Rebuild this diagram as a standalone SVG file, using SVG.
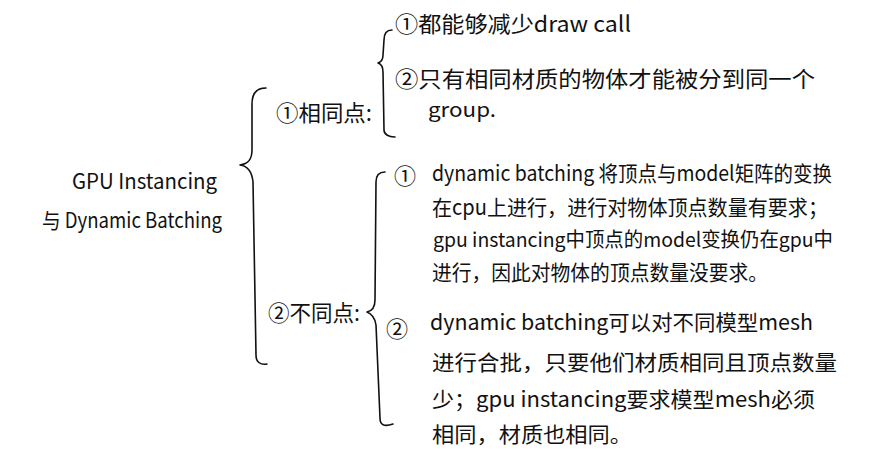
<svg xmlns="http://www.w3.org/2000/svg" width="883" height="475" viewBox="0 0 883 475">
<style>
text{font-family:"Noto Sans CJK SC","Noto Sans",sans-serif;fill:#111;}
.r{font-size:21px;}
.l1{font-size:22px;}
.t{font-size:21px;}
.s{font-size:20px;}
.n{font-size:22px;}
.b{fill:none;stroke:#111;stroke-width:1.6;stroke-linecap:round;stroke-linejoin:round;}
</style>
<rect width="883" height="475" fill="#fff"/>
<g id="connectors">
<path class="b" d="M266 88 C256 88 252 94 252 104 L252 150 C252 160 248 164 240 165 C248 166 252 172 253 182 L256 355 C256 362 260 365 267 364"/>
<path class="b" d="M392 30 C386 30 384 34 384 40 L383 55 C383 60 381 62 378 63 C381 64 383 67 383 72 L384 130 C384 134 388 137 395 137"/>
<path class="b" d="M385 172 C379 172 376 176 376 182 L375 300 C375 308 372 311 367 312 C372 314 375 318 376 325 L380 418 C380 425 384 427 393 424"/>
</g>
<g id="root">
<text class="r" x="72" y="189" textLength="145" lengthAdjust="spacingAndGlyphs">GPU Instancing</text>
<text class="r" x="42" y="228" textLength="180" lengthAdjust="spacingAndGlyphs">与 Dynamic Batching</text>
</g>
<g id="same">
<text class="l1" x="276" y="121" textLength="96" lengthAdjust="spacingAndGlyphs">①相同点:</text>
</g>
<g id="diff">
<text class="l1" x="268" y="321" textLength="92" lengthAdjust="spacingAndGlyphs">②不同点:</text>
</g>
<g id="same-1">
<text class="l1" x="395" y="32" textLength="236" lengthAdjust="spacingAndGlyphs">①都能够减少draw call</text>
</g>
<g id="same-2">
<text class="l1" x="395" y="87" textLength="420" lengthAdjust="spacingAndGlyphs">②只有相同材质的物体才能被分到同一个</text>
<text class="s" x="428" y="117" textLength="68" lengthAdjust="spacingAndGlyphs">group.</text>
</g>
<g id="diff-1">
<text class="n" x="394" y="184">①</text>
<text class="t" x="432" y="181" textLength="400" lengthAdjust="spacingAndGlyphs">dynamic batching 将顶点与model矩阵的变换</text>
<text class="t" x="432" y="215" textLength="396" lengthAdjust="spacingAndGlyphs">在cpu上进行，进行对物体顶点数量有要求；</text>
<text class="s" x="433" y="247" textLength="400" lengthAdjust="spacingAndGlyphs">gpu instancing中顶点的model变换仍在gpu中</text>
<text class="t" x="432" y="280" textLength="336" lengthAdjust="spacingAndGlyphs">进行，因此对物体的顶点数量没要求。</text>
</g>
<g id="diff-2">
<text class="n" x="386" y="337">②</text>
<text class="t" x="430" y="330" textLength="383" lengthAdjust="spacingAndGlyphs">dynamic batching可以对不同模型mesh</text>
<text class="t" x="432" y="370" textLength="405" lengthAdjust="spacingAndGlyphs">进行合批，只要他们材质相同且顶点数量</text>
<text class="t" x="432" y="407" textLength="383" lengthAdjust="spacingAndGlyphs">少；gpu instancing要求模型mesh必须</text>
<text class="t" x="432" y="442" textLength="200" lengthAdjust="spacingAndGlyphs">相同，材质也相同。</text>
</g>
</svg>
